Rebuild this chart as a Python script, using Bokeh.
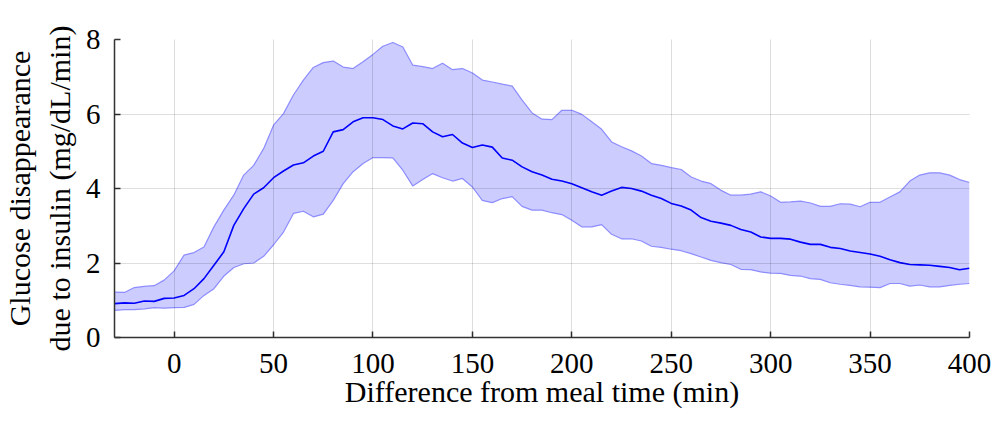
from bokeh.plotting import figure
from bokeh.models import ColumnDataSource, Range1d, FixedTicker
from bokeh.embed import file_html
from bokeh.resources import INLINE

minutes = list(range(-30, 401, 5))

mean_vals = [0.91, 0.93, 0.92, 0.98, 0.97, 1.05, 1.06, 1.13, 1.31, 1.58, 1.94, 2.30, 3.01, 3.46, 3.85,
             4.02, 4.29, 4.47, 4.63, 4.69, 4.87, 5.00, 5.52, 5.58, 5.79, 5.90, 5.90, 5.85, 5.68, 5.60,
             5.76, 5.74, 5.52, 5.39, 5.45, 5.22, 5.10, 5.17, 5.11, 4.82, 4.76, 4.58, 4.45, 4.36, 4.25,
             4.20, 4.13, 4.02, 3.91, 3.82, 3.93, 4.03, 4.00, 3.93, 3.82, 3.73, 3.60, 3.53, 3.42, 3.22,
             3.12, 3.07, 3.01, 2.90, 2.83, 2.70, 2.66, 2.66, 2.64, 2.56, 2.50, 2.50, 2.42, 2.39, 2.32,
             2.28, 2.24, 2.18, 2.09, 2.01, 1.96, 1.95, 1.94, 1.91, 1.88, 1.82, 1.86]

upper_vals = [1.22, 1.21, 1.34, 1.37, 1.39, 1.54, 1.79, 2.21, 2.28, 2.43, 2.97, 3.42, 3.82, 4.36, 4.62,
              5.07, 5.70, 6.01, 6.51, 6.91, 7.25, 7.38, 7.42, 7.26, 7.22, 7.40, 7.60, 7.82, 7.92, 7.80,
              7.31, 7.27, 7.22, 7.36, 7.19, 7.22, 7.10, 6.91, 6.86, 6.80, 6.75, 6.37, 6.03, 5.86, 5.85,
              6.10, 6.10, 5.99, 5.79, 5.59, 5.25, 5.12, 5.01, 4.87, 4.67, 4.62, 4.56, 4.51, 4.31, 4.20,
              4.13, 3.95, 3.82, 3.82, 3.85, 3.91, 3.80, 3.63, 3.64, 3.66, 3.61, 3.52, 3.52, 3.59, 3.58,
              3.51, 3.63, 3.63, 3.77, 3.91, 4.20, 4.36, 4.42, 4.42, 4.36, 4.24, 4.16]

lower_vals = [0.73, 0.75, 0.75, 0.77, 0.80, 0.79, 0.80, 0.81, 0.89, 1.13, 1.31, 1.65, 1.88, 1.98, 2.00,
              2.18, 2.49, 2.83, 3.33, 3.39, 3.24, 3.31, 3.68, 4.13, 4.45, 4.67, 4.83, 4.83, 4.82, 4.49,
              4.07, 4.24, 4.40, 4.29, 4.20, 4.27, 4.04, 3.68, 3.62, 3.73, 3.78, 3.52, 3.42, 3.42, 3.35,
              3.30, 3.15, 2.97, 2.97, 3.03, 2.77, 2.65, 2.65, 2.59, 2.45, 2.42, 2.37, 2.33, 2.25, 2.16,
              2.07, 2.01, 1.96, 1.83, 1.82, 1.76, 1.73, 1.72, 1.67, 1.65, 1.58, 1.56, 1.47, 1.43, 1.40,
              1.36, 1.35, 1.34, 1.45, 1.45, 1.38, 1.41, 1.36, 1.36, 1.40, 1.43, 1.45]

x_ticks = [0, 50, 100, 150, 200, 250, 300, 350, 400]
y_ticks = [0, 2, 4, 6, 8]

src = ColumnDataSource(dict(x=minutes, mean=mean_vals, upper=upper_vals, lower=lower_vals))

FONT = "Liberation Serif"

p = figure(width=996, height=424, output_backend="svg", toolbar_location=None,
           x_range=Range1d(-30, 400), y_range=Range1d(0, 8),
           min_border_left=113, min_border_right=27, min_border_top=39, min_border_bottom=87)

p.varea(x="x", y1="lower", y2="upper", source=src, fill_color="#0000ff", fill_alpha=0.2)
p.line(x="x", y="upper", source=src, line_color="#8c8cff", line_width=1.2)
p.line(x="x", y="lower", source=src, line_color="#8c8cff", line_width=1.2)
p.line(x="x", y="mean", source=src, line_color="#0000ff", line_width=1.6)

p.outline_line_color = None
for g in (p.xgrid[0], p.ygrid[0]):
    g.grid_line_color = "black"
    g.grid_line_alpha = 0.13
    g.grid_line_width = 1
    g.level = "overlay"

p.xaxis.ticker = FixedTicker(ticks=x_ticks)
p.yaxis.ticker = FixedTicker(ticks=y_ticks)

for ax in (p.xaxis[0], p.yaxis[0]):
    ax.axis_line_color = "#333333"
    ax.axis_line_width = 1.5
    ax.major_tick_in = 6
    ax.major_tick_out = 0
    ax.major_tick_line_color = "#333333"
    ax.major_tick_line_width = 1.5
    ax.minor_tick_line_color = None
    ax.major_label_text_font = FONT
    ax.major_label_text_font_size = "29px"
    ax.major_label_text_color = "black"
    ax.axis_label_text_font = FONT
    ax.axis_label_text_font_size = "30px"
    ax.axis_label_text_font_style = "normal"
    ax.axis_label_text_color = "black"

p.xaxis.axis_label = "Difference from meal time (min)"
p.yaxis.axis_label = "Glucose disappearance\ndue to insulin (mg/dL/min)"
p.xaxis.major_label_standoff = 16
p.yaxis.major_label_standoff = 14
p.xaxis.axis_label_standoff = -1
p.yaxis.axis_label_standoff = 7

open("out.html", "w").write(file_html(p, INLINE))
